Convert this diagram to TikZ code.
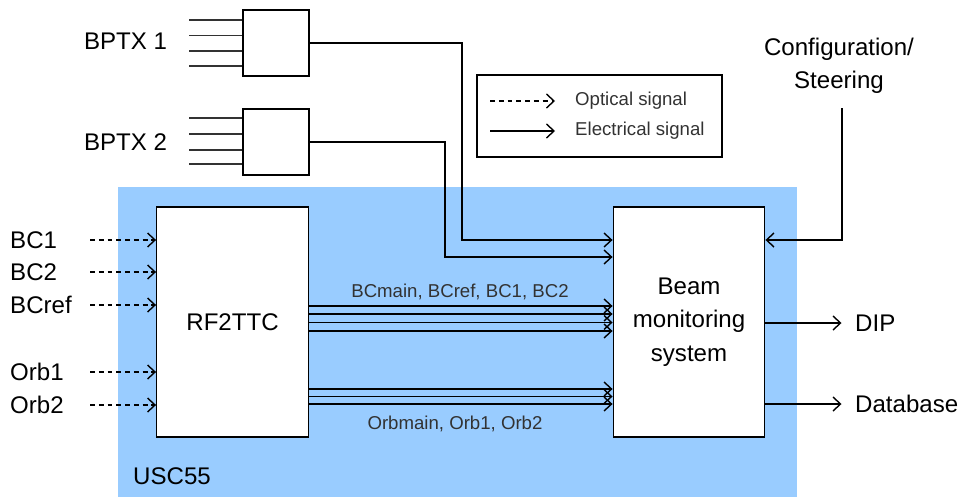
\documentclass[tikz,border=0pt]{standalone}
\usepackage{fontspec}
\setmainfont{Liberation Sans}
\usetikzlibrary{arrows.meta}
\definecolor{uscblue}{RGB}{153,204,255}
\definecolor{inkgrey}{RGB}{50,50,50}
\tikzset{
  sysbox/.style={
    draw,
    thick,
    fill=white,
    minimum width=3.03cm,
    minimum height=4.6cm,
    align=center,
    font=\fontsize{13.7}{19}\selectfont
  },
  pickupbox/.style={
    draw,
    thick,
    fill=white,
    minimum width=1.32cm,
    minimum height=1.32cm
  },
  legendbox/.style={
    draw,
    thick,
    minimum width=4.9cm,
    minimum height=1.64cm
  },
  biglabel/.style={
    font=\fontsize{13.7}{17}\selectfont
  },
  smalllabel/.style={
    font=\fontsize{10.6}{13}\selectfont,
    text=inkgrey
  },
  sig/.style={
    -{Straight Barb[length=1.5mm,width=2.8mm,line width=0.8pt]},
    line width=0.7pt
  },
  optsig/.style={
    sig,
    dash pattern=on 2.8pt off 2.2pt
  },
  stub/.style={
    line width=0.8pt,
    draw=inkgrey
  }
}

\begin{document}
\begin{tikzpicture}[x=0.02cm,y=-0.02cm]

\useasboundingbox (0,0) rectangle (962,497);

% underground area
\fill[uscblue] (118,187) rectangle (797,497);
\node[biglabel] (usc) at (172,476) {USC55};

% main blocks
\node[sysbox] (rf) at (232.5,322) {RF2TTC};
\node[sysbox] (bms) at (689,322) {Beam\\monitoring\\system};

% pick-ups
\node[pickupbox] (bptxa) at (276,43) {};
\node[pickupbox] (bptxb) at (276,142) {};
\node[biglabel] (bptxalabel) at (125.5,41) {BPTX 1};
\node[biglabel] (bptxblabel) at (125.5,142) {BPTX 2};
\foreach \y in {20,35.5,51,66} {
  \coordinate (sa) at (189,\y);
  \draw[stub] (sa) -- (sa -| bptxa.west);
}
\foreach \y in {118,134,150,164} {
  \coordinate (sb) at (189,\y);
  \draw[stub] (sb) -- (sb -| bptxb.west);
}

\coordinate (benda) at (462,240);
\coordinate (bendb) at (445,257);
\draw[sig] (bptxa.east) -| (benda) -- (benda -| bms.west);
\draw[sig] (bptxb.east) -| (bendb) -- (bendb -| bms.west);

% configuration
\node[biglabel, align=center, font=\fontsize{13.7}{19}\selectfont]
  (cfg) at (839,66) {Configuration/\\Steering};
\coordinate (cfgfoot) at (842,108);
\draw[sig] (cfgfoot) |- (bms.east |- benda);

% legend
\node[legendbox] (legend) at (599.5,116) {};
\node[smalllabel, anchor=west] (opttext) at (569,101) {Optical signal};
\node[smalllabel, anchor=west] (eltext) at (569,131) {Electrical signal};
\coordinate (opta) at (490,101);
\coordinate (ela) at (490,131);
\draw[optsig] (opta) -- ++(65,0);
\draw[sig] (ela) -- ++(65,0);

% optical inputs
\foreach \name/\txt/\y in {bca/BC1/240,bcb/BC2/272,bcr/BCref/305,orba/Orb1/372,orbb/Orb2/405} {
  \node[biglabel, anchor=west] (\name) at (4,\y) {\txt};
  \coordinate (\name-tail) at (90,\y);
  \draw[optsig] (\name-tail) -- (\name-tail -| rf.west);
}

% clock and orbit lines
\foreach \y in {306,314,322.5,331} {
  \coordinate (bcl) at (300,\y);
  \draw[sig] (bcl -| rf.east) -- (bcl -| bms.west);
}
\foreach \y in {389,396.5,404} {
  \coordinate (orl) at (300,\y);
  \draw[sig] (orl -| rf.east) -- (orl -| bms.west);
}
\node[smalllabel] (bclabel) at (460,292) {BCmain, BCref, BC1, BC2};
\node[smalllabel] (orblabel) at (455,424) {Orbmain, Orb1, Orb2};

% outputs
\node[biglabel, anchor=west] (dip) at (849,323) {DIP};
\node[biglabel, anchor=west] (db) at (849,404) {Database};
\draw[sig] (bms.east |- dip) -- ([xshift=-0.15cm]dip.west);
\draw[sig] (bms.east |- db) -- ([xshift=-0.15cm]db.west);

\end{tikzpicture}
\end{document}
